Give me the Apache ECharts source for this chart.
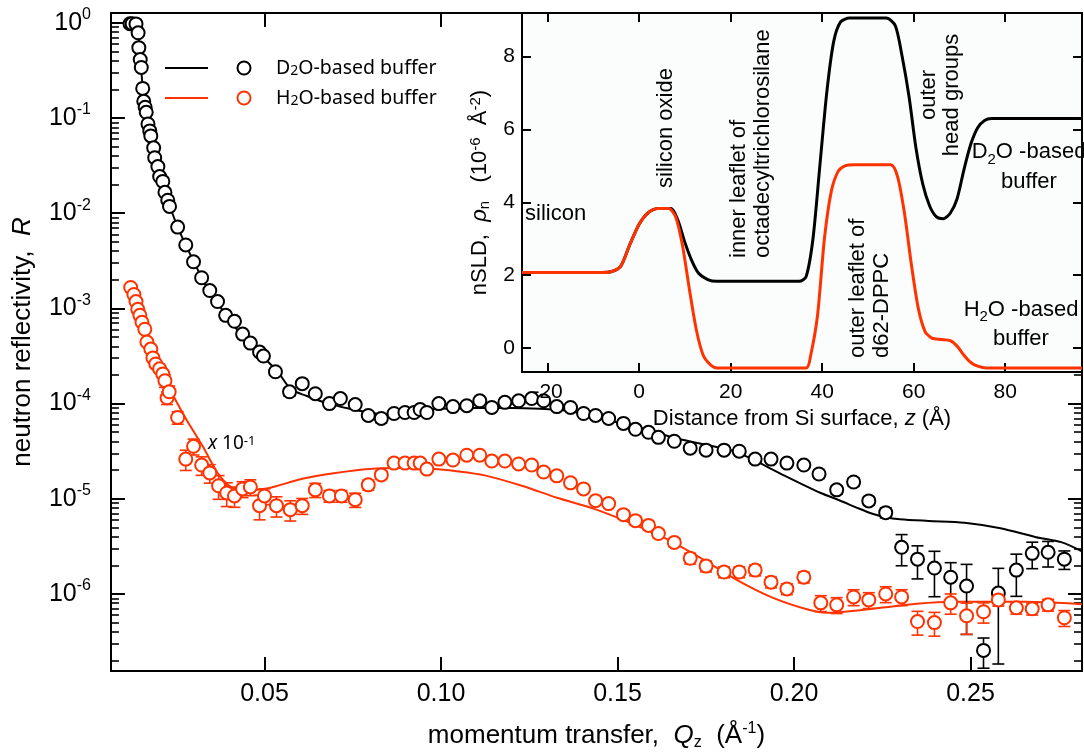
<!DOCTYPE html>
<html>
<head>
<meta charset="utf-8">
<script src="https://cdn.jsdelivr.net/npm/echarts@6/dist/echarts.min.js"></script>
<style>
  html, body { margin: 0; padding: 0; background: #fff; }
  #chart { width: 1084px; height: 756px; }
</style>
</head>
<body>
<div id="chart"></div>
<script>
// reflectivity, D2O-based buffer (open black circles)
var qD2O = [0.0119, 0.0125, 0.0136, 0.0142, 0.0144, 0.0148, 0.0151, 0.0155, 0.0158, 0.0162,
  0.0165, 0.0170, 0.0175, 0.0178, 0.0186, 0.0189, 0.0198, 0.0203, 0.0212, 0.0218,
  0.0226, 0.0231, 0.0254, 0.0277, 0.0299, 0.0322, 0.0345, 0.0367, 0.0390, 0.0415,
  0.0438, 0.0460, 0.0486, 0.0497, 0.0531, 0.0571, 0.0607, 0.0644, 0.0684, 0.0715,
  0.0757, 0.0794, 0.0831, 0.0867, 0.0898, 0.0924, 0.0941, 0.0960, 0.0994, 0.1034,
  0.1073, 0.1110, 0.1144, 0.1181, 0.1220, 0.1257, 0.1291, 0.1328, 0.1367, 0.1404,
  0.1438, 0.1475, 0.1517, 0.1551, 0.1588, 0.1616, 0.1661, 0.1706, 0.1751, 0.1802,
  0.1845, 0.1890, 0.1935, 0.1980, 0.2028, 0.2071, 0.2121, 0.2169, 0.2212, 0.2260,
  0.2305, 0.2350, 0.2398, 0.2444, 0.2489, 0.2537, 0.2579, 0.2630, 0.2675, 0.2720, 0.2766];
var rD2O = [0.98, 0.98, 0.976, 0.787, 0.549, 0.412, 0.34, 0.205, 0.150, 0.130,
  0.115, 0.0866, 0.0733, 0.0649, 0.0487, 0.0383, 0.0309, 0.0243, 0.0216, 0.0166,
  0.0137, 0.0118, 0.00715, 0.00464, 0.00309, 0.0021, 0.00154, 0.00118, 0.000846, 0.000732,
  0.000537, 0.000432, 0.000348, 0.000316, 0.000216, 0.000133, 0.000162, 0.000127, 0.0001, 0.000113,
  9.77e-5, 7.5e-5, 6.98e-5, 7.87e-5, 8.06e-5, 8.06e-5, 8.66e-5, 8.06e-5, 1.0e-4, 9.3e-5,
  9.5e-5, 1.07e-4, 9.1e-5, 1.03e-4, 1.07e-4, 1.13e-4, 1.07e-4, 9.3e-5, 9.1e-5, 7.87e-5,
  7.5e-5, 6.98e-5, 6.19e-5, 5.37e-5, 4.99e-5, 4.42e-5, 4.02e-5, 3.4e-5, 3.24e-5, 3.24e-5,
  3.16e-5, 2.61e-5, 2.61e-5, 2.37e-5, 2.26e-5, 1.82e-5, 1.24e-5, 1.5e-5, 9.5e-6, 7.15e-6,
  3.09e-6, 2.32e-6, 1.87e-6, 1.5e-6, 1.21e-6, 2.55e-7, 1.02e-6, 1.78e-6, 2.67e-6, 2.74e-6, 2.32e-6];
// relative error (sigma / R)
var eD2O = [0.03, 0.03, 0.03, 0.03, 0.03, 0.03, 0.03, 0.03, 0.03, 0.03,
  0.03, 0.03, 0.03, 0.03, 0.03, 0.03, 0.03, 0.03, 0.03, 0.03,
  0.03, 0.03, 0.03, 0.03, 0.03, 0.03, 0.03, 0.03, 0.03, 0.03,
  0.03, 0.03, 0.03, 0.03, 0.08, 0.1, 0.08, 0.08, 0.08, 0.08,
  0.08, 0.08, 0.1, 0.08, 0.08, 0.08, 0.08, 0.08, 0.05, 0.05,
  0.05, 0.05, 0.05, 0.05, 0.05, 0.05, 0.05, 0.05, 0.05, 0.05,
  0.05, 0.05, 0.05, 0.05, 0.05, 0.05, 0.05, 0.05, 0.05, 0.05,
  0.05, 0.05, 0.05, 0.05, 0.05, 0.1, 0.1, 0.1, 0.1, 0.12,
  0.36, 0.38, 0.5, 0.42, 0.69, 0.35, 0.82, 0.47, 0.31, 0.3, 0.22];

// reflectivity, H2O-based buffer (open red circles, scaled x 10^-1)
var qH2O = [0.0121, 0.0130, 0.0136, 0.0141, 0.0147, 0.0153, 0.0161, 0.0167, 0.0178, 0.0184,
  0.0192, 0.0203, 0.0212, 0.0218, 0.0224, 0.0230, 0.0254, 0.0277, 0.0299, 0.0322,
  0.0345, 0.0370, 0.0393, 0.0415, 0.0438, 0.0460, 0.0486, 0.0500, 0.0534, 0.0573,
  0.0607, 0.0644, 0.0684, 0.0718, 0.0757, 0.0794, 0.0831, 0.0867, 0.0898, 0.0924,
  0.0941, 0.0960, 0.0994, 0.1034, 0.1073, 0.1110, 0.1144, 0.1181, 0.1220, 0.1257,
  0.1291, 0.1328, 0.1367, 0.1404, 0.1438, 0.1475, 0.1517, 0.1551, 0.1588, 0.1616,
  0.1661, 0.1706, 0.1751, 0.1802, 0.1845, 0.1890, 0.1935, 0.1980, 0.2028, 0.2076,
  0.2121, 0.2169, 0.2212, 0.2260, 0.2305, 0.2350, 0.2398, 0.2444, 0.2489, 0.2537,
  0.2579, 0.2630, 0.2675, 0.2720, 0.2766];
var rH2O = [1.66e-3, 1.40e-3, 1.18e-3, 9.77e-4, 8.46e-4, 7.15e-4, 6.04e-4, 4.43e-4, 3.74e-4, 3.02e-4,
  2.61e-4, 2.32e-4, 2.05e-4, 1.74e-4, 1.15e-4, 1.33e-4, 7.15e-5, 2.61e-5, 3.56e-5, 2.26e-5,
  1.87e-5, 1.37e-5, 1.15e-5, 1.07e-5, 1.27e-5, 1.33e-5, 8.46e-6, 1.07e-5, 8.46e-6, 7.68e-6,
  8.46e-6, 1.24e-5, 1.07e-5, 1.07e-5, 9.77e-6, 1.4e-5, 1.78e-5, 2.37e-5, 2.37e-5, 2.37e-5,
  2.37e-5, 2.05e-5, 2.61e-5, 2.55e-5, 2.87e-5, 2.87e-5, 2.49e-5, 2.49e-5, 2.32e-5, 2.26e-5,
  1.91e-5, 1.74e-5, 1.47e-5, 1.27e-5, 9.55e-6, 8.9e-6, 6.81e-6, 5.89e-6, 5.25e-6, 4.31e-6,
  3.48e-6, 2.37e-6, 1.96e-6, 1.7e-6, 1.7e-6, 1.78e-6, 1.33e-6, 1.13e-6, 1.5e-6, 8.06e-7,
  7.68e-7, 9.3e-7, 8.66e-7, 1.0e-6, 9.3e-7, 5.13e-7, 5.0e-7, 8.06e-7, 5.89e-7, 6.5e-7,
  8.66e-7, 7.15e-7, 6.98e-7, 7.68e-7, 5.62e-7];
var eH2O = [0.07, 0.07, 0.07, 0.07, 0.07, 0.07, 0.07, 0.07, 0.07, 0.07,
  0.07, 0.07, 0.07, 0.15, 0.15, 0.15, 0.15, 0.24, 0.19, 0.22,
  0.22, 0.28, 0.28, 0.24, 0.19, 0.19, 0.29, 0.19, 0.24, 0.24,
  0.19, 0.17, 0.14, 0.14, 0.17, 0.12, 0.1, 0.07, 0.07, 0.07,
  0.07, 0.07, 0.07, 0.07, 0.07, 0.07, 0.07, 0.07, 0.07, 0.07,
  0.07, 0.07, 0.07, 0.07, 0.07, 0.07, 0.1, 0.1, 0.1, 0.1,
  0.1, 0.13, 0.13, 0.13, 0.13, 0.13, 0.13, 0.13, 0.13, 0.19,
  0.19, 0.19, 0.19, 0.19, 0.19, 0.28, 0.28, 0.24, 0.36, 0.24,
  0.14, 0.14, 0.14, 0.14, 0.19];

// model fits
var fitQD2O = [0.0119, 0.0136, 0.0142, 0.0148, 0.0155, 0.0162, 0.0170, 0.0180, 0.0190, 0.0200,
  0.0215, 0.0230, 0.0250, 0.0275, 0.0300, 0.0325, 0.0350, 0.0375, 0.0400, 0.0425,
  0.0450, 0.0475, 0.0500, 0.0540, 0.0575, 0.0620, 0.0680, 0.0750, 0.0800, 0.0850,
  0.0900, 0.0950, 0.1000, 0.1100, 0.1200, 0.1280, 0.1365, 0.1466, 0.1568, 0.1669,
  0.1771, 0.1831, 0.1873, 0.1975, 0.2076, 0.2130, 0.2180, 0.2220, 0.2260, 0.2300,
  0.2381, 0.2483, 0.2585, 0.2686, 0.2757, 0.2816];
var fitRD2O = [1.0, 0.98, 0.78, 0.45, 0.21, 0.135, 0.088, 0.058, 0.040, 0.029,
  0.019, 0.0125, 0.0078, 0.0048, 0.0031, 0.0020, 0.00142, 0.00103, 0.00077, 0.00058,
  0.00046, 0.00037, 0.00030, 0.00021, 0.000142, 0.00012, 0.0001, 8.7e-5, 8.0e-5, 7.7e-5,
  8.0e-5, 8.5e-5, 8.8e-5, 9.0e-5, 9.0e-5, 8.8e-5, 8.3e-5, 6.8e-5, 5.5e-5, 4.3e-5,
  3.56e-5, 3.16e-5, 2.7e-5, 1.74e-5, 1.15e-5, 9.6e-6, 8.0e-6, 7.0e-6, 6.4e-6, 6.1e-6,
  5.85e-6, 5.6e-6, 4.9e-6, 3.95e-6, 3.5e-6, 2.8e-6];
var fitQH2O = [0.0121, 0.0141, 0.0161, 0.0184, 0.0203, 0.0232, 0.0277, 0.0325, 0.0373, 0.0418,
  0.0466, 0.0514, 0.0607, 0.0701, 0.0797, 0.0890, 0.0980, 0.1040, 0.1124, 0.1229,
  0.1331, 0.1432, 0.1534, 0.1636, 0.1737, 0.1839, 0.1941, 0.2042, 0.2093, 0.2144,
  0.2246, 0.2347, 0.2449, 0.2551, 0.2653, 0.2816];
var fitRH2O = [1.7e-3, 1.0e-3, 6.0e-4, 3.1e-4, 2.1e-4, 1.4e-4, 6.98e-5, 3.56e-5, 1.74e-5, 1.27e-5,
  1.24e-5, 1.3e-5, 1.62e-5, 1.86e-5, 2.05e-5, 2.1e-5, 2.06e-5, 1.96e-5, 1.76e-5, 1.37e-5,
  1.02e-5, 7.87e-6, 5.62e-6, 3.83e-6, 2.37e-6, 1.4e-6, 9.1e-7, 6.81e-7, 6.34e-7, 6.5e-7,
  7.15e-7, 7.87e-7, 8.26e-7, 8.26e-7, 8.26e-7, 7.8e-7];

// inset: nSLD profiles
var zD2O = [-25.6, -8, -6, -4, -2, 0, 2, 4, 7, 8.5, 10, 11.5, 13, 15, 17, 35, 36.5, 38, 39.5, 41,
  42.5, 44, 46, 54, 56, 57.5, 59, 60.5, 62, 63.5, 65, 66.5, 68, 69.5, 71, 72.5, 74, 75.5, 77, 96.8];
var sldD2O = [2.07, 2.07, 2.1, 2.25, 2.85, 3.4, 3.72, 3.83, 3.83, 3.5, 2.9, 2.4, 2.05, 1.88, 1.83, 1.83, 1.96, 3.0, 5.0, 7.0,
  8.4, 8.95, 9.06, 9.06, 8.85, 8.0, 6.9, 5.5, 4.5, 3.9, 3.6, 3.55, 3.7, 4.1, 4.9, 5.6, 6.05, 6.25, 6.3, 6.3];
var zH2O = [-25.6, -8, -6, -4, -2, 0, 2, 4, 6.5, 8, 9.5, 11, 12.5, 14, 15.5, 17, 36.5, 37.5, 39, 40.5,
  42, 43.5, 45, 47, 55, 56.5, 58, 59.5, 61, 62.5, 64, 66, 68, 69.5, 71, 72.5, 74, 76, 96.8];
var sldH2O = [2.07, 2.07, 2.1, 2.25, 2.85, 3.4, 3.72, 3.83, 3.83, 3.6, 2.8, 1.6, 0.5, -0.2, -0.45, -0.55, -0.55, -0.2, 0.9, 3.0,
  4.3, 4.85, 5.0, 5.03, 5.03, 4.7, 3.7, 2.3, 1.1, 0.45, 0.27, 0.23, 0.2, 0.05, -0.2, -0.4, -0.5, -0.55, -0.55];

// ticks
var qTicks = [0.05, 0.10, 0.15, 0.20, 0.25];
var rTicks = [1e-6, 1e-5, 1e-4, 1e-3, 1e-2, 1e-1, 1];
var zTicks = [-20, 0, 20, 40, 60, 80];
var sldTicks = [0, 2, 4, 6, 8];

var Q_MIN = 0.0065, Q_MAX = 0.2816;
var R_MIN = 1.55e-7, R_MAX = 1.27;
var Z_MIN = -25.6, Z_MAX = 96.8;
var S_MIN = -0.66, S_MAX = 9.2;

var RED = '#ff3300';
var FONT = '"Liberation Sans", Arial, sans-serif';
var LFONT = '"Noto Sans", "DejaVu Sans", sans-serif';

var minorTicks = [];
rTicks.concat([1e-7]).forEach(function (d) {
  for (var m = 2; m <= 9; m++) {
    var v = m * d;
    if (v > R_MIN && v < R_MAX) minorTicks.push(v);
  }
});

function zip(a, b) { return a.map(function (v, i) { return [v, b[i]]; }); }
function errData(q, r, e) {
  return q.map(function (v, i) {
    return [v, Math.max(r[i] * (1 - e[i]), R_MIN), r[i] * (1 + e[i])];
  });
}
function errorBars(color) {
  return function (params, api) {
    var x = api.value(0);
    var lo = api.coord([x, api.value(1)]);
    var hi = api.coord([x, api.value(2)]);
    var cap = 6;
    var st = { stroke: color, lineWidth: 1.6 };
    return {
      type: 'group',
      children: [
        { type: 'line', shape: { x1: hi[0], y1: hi[1], x2: lo[0], y2: lo[1] }, style: st },
        { type: 'line', shape: { x1: hi[0] - cap, y1: hi[1], x2: hi[0] + cap, y2: hi[1] }, style: st },
        { type: 'line', shape: { x1: lo[0] - cap, y1: lo[1], x2: lo[0] + cap, y2: lo[1] }, style: st }
      ]
    };
  };
}

var supRich = {
  sup: { fontSize: 16, lineHeight: 22, verticalAlign: 'top', fontFamily: FONT, color: '#000' },
  sub: { fontSize: 16, lineHeight: 16, verticalAlign: 'bottom', fontFamily: FONT, color: '#000' },
  i: { fontStyle: 'italic', fontSize: 26, fontFamily: FONT, color: '#000' }
};

var blackLine = { onZero: false, lineStyle: { color: '#000', width: 2 } };
var mainTick = { inside: true, length: 14, lineStyle: { color: '#000', width: 2 } };
var minorTick = { inside: true, length: 8, lineStyle: { color: '#000', width: 1.6 }, customValues: minorTicks };
var insetTick = { inside: true, length: 9, lineStyle: { color: '#000', width: 2 } };

var chart = echarts.init(document.getElementById('chart'));
var option = {
  animation: false,
  backgroundColor: '#fff',
  grid: [
    { left: 108, top: 13, right: 2, bottom: 79 },
    { left: 522, top: 13, right: 2, height: 359, show: true, backgroundColor: '#fbfcfc', borderWidth: 0, z: 10 }
  ],
  xAxis: [
    {
      gridIndex: 0, type: 'value', min: Q_MIN, max: Q_MAX, position: 'bottom',
      axisLine: blackLine,
      axisTick: Object.assign({ customValues: qTicks }, mainTick),
      axisLabel: {
        customValues: qTicks, fontSize: 25, lineHeight: 25, color: '#000', margin: 11, fontFamily: FONT,
        formatter: function (v) { return v.toFixed(2); }
      },
      splitLine: { show: false },
      name: 'momentum transfer,  {i|Q}{sub|z}  (Å{sup|-1})',
      nameLocation: 'middle', nameGap: 50,
      nameTextStyle: { fontSize: 26, lineHeight: 30, color: '#000', fontFamily: FONT, rich: supRich }
    },
    {
      gridIndex: 0, type: 'value', min: Q_MIN, max: Q_MAX, position: 'top',
      axisLine: blackLine,
      axisTick: Object.assign({ customValues: qTicks }, mainTick),
      axisLabel: { show: false }, splitLine: { show: false }
    },
    {
      gridIndex: 1, type: 'value', min: Z_MIN, max: Z_MAX, position: 'bottom', z: 11,
      axisLine: blackLine,
      axisTick: Object.assign({ customValues: zTicks }, insetTick),
      axisLabel: { customValues: zTicks, fontSize: 21, lineHeight: 21, color: '#000', margin: 10, fontFamily: FONT },
      splitLine: { show: false },
      name: 'Distance from Si surface, {i|z} (Å)',
      nameLocation: 'middle', nameGap: 35,
      nameTextStyle: {
        fontSize: 22, lineHeight: 24, color: '#000', fontFamily: FONT,
        rich: { i: { fontStyle: 'italic', fontSize: 22, fontFamily: FONT, color: '#000' } }
      }
    },
    {
      gridIndex: 1, type: 'value', min: Z_MIN, max: Z_MAX, position: 'top', z: 11,
      axisLine: blackLine,
      axisTick: Object.assign({ customValues: zTicks }, insetTick),
      axisLabel: { show: false }, splitLine: { show: false }
    }
  ],
  yAxis: [
    {
      gridIndex: 0, type: 'log', logBase: 10, min: R_MIN, max: R_MAX, position: 'left',
      axisLine: blackLine,
      axisTick: Object.assign({ customValues: rTicks }, mainTick),
      axisLabel: {
        customValues: rTicks, color: '#000', margin: 20, fontSize: 25, lineHeight: 32, fontFamily: FONT,
        formatter: function (v) { return '10{sup|' + Math.round(Math.log10(v)) + '}'; },
        rich: { sup: { fontSize: 16, lineHeight: 22, verticalAlign: 'top', fontFamily: FONT, color: '#000' } }
      },
      splitLine: { show: false },
      name: 'neutron reflectivity,  {i|R}',
      nameLocation: 'middle', nameRotate: 90, nameGap: 72,
      nameTextStyle: { fontSize: 26, lineHeight: 30, color: '#000', fontFamily: FONT, rich: supRich }
    },
    {
      gridIndex: 0, type: 'log', logBase: 10, min: R_MIN, max: R_MAX, position: 'right',
      axisLine: blackLine,
      axisTick: Object.assign({ customValues: rTicks }, mainTick),
      axisLabel: { show: false }, splitLine: { show: false }
    },
    {
      gridIndex: 0, type: 'log', logBase: 10, min: R_MIN, max: R_MAX, position: 'left',
      axisLine: { show: false }, axisTick: minorTick,
      axisLabel: { show: false }, splitLine: { show: false }
    },
    {
      gridIndex: 0, type: 'log', logBase: 10, min: R_MIN, max: R_MAX, position: 'right',
      axisLine: { show: false }, axisTick: minorTick,
      axisLabel: { show: false }, splitLine: { show: false }
    },
    {
      gridIndex: 1, type: 'value', min: S_MIN, max: S_MAX, position: 'left', z: 11,
      axisLine: blackLine,
      axisTick: Object.assign({ customValues: sldTicks }, insetTick),
      axisLabel: { customValues: sldTicks, fontSize: 21, color: '#000', margin: 7, fontFamily: FONT },
      splitLine: { show: false },
      name: 'nSLD,  {i|ρ}{sub|n}   (10{sup|-6}  Å{sup|-2})',
      nameLocation: 'middle', nameRotate: 90, nameGap: 30,
      nameTextStyle: {
        fontSize: 22, lineHeight: 24, color: '#000', fontFamily: FONT,
        rich: {
          i: { fontStyle: 'italic', fontSize: 22, fontFamily: FONT, color: '#000' },
          sub: { fontSize: 15, lineHeight: 15, verticalAlign: 'bottom', fontFamily: FONT, color: '#000' },
          sup: { fontSize: 15, lineHeight: 18, verticalAlign: 'top', fontFamily: FONT, color: '#000' }
        }
      }
    },
    {
      gridIndex: 1, type: 'value', min: S_MIN, max: S_MAX, position: 'right', z: 11,
      axisLine: blackLine,
      axisTick: Object.assign({ customValues: sldTicks }, insetTick),
      axisLabel: { show: false }, splitLine: { show: false }
    }
  ],
  series: [
    {
      type: 'line', xAxisIndex: 0, yAxisIndex: 0, data: zip(fitQD2O, fitRD2O),
      showSymbol: false, smooth: 0.3, z: 2,
      lineStyle: { color: '#000', width: 2 }
    },
    {
      type: 'line', xAxisIndex: 0, yAxisIndex: 0, data: zip(fitQH2O, fitRH2O),
      showSymbol: false, smooth: 0.3, z: 2,
      lineStyle: { color: RED, width: 2 }
    },
    {
      type: 'custom', xAxisIndex: 0, yAxisIndex: 0, data: errData(qD2O, rD2O, eD2O),
      encode: { x: 0, y: [1, 2] }, renderItem: errorBars('#000'), z: 3
    },
    {
      type: 'custom', xAxisIndex: 0, yAxisIndex: 0, data: errData(qH2O, rH2O, eH2O),
      encode: { x: 0, y: [1, 2] }, renderItem: errorBars(RED), z: 3
    },
    {
      type: 'scatter', xAxisIndex: 0, yAxisIndex: 0, data: zip(qD2O, rD2O),
      symbol: 'circle', symbolSize: 13, z: 4,
      itemStyle: { color: '#fff', opacity: 1, borderColor: '#000', borderWidth: 2 }
    },
    {
      type: 'scatter', xAxisIndex: 0, yAxisIndex: 0, data: zip(qH2O, rH2O),
      symbol: 'circle', symbolSize: 13, z: 4,
      itemStyle: { color: '#fff', opacity: 1, borderColor: RED, borderWidth: 2 }
    },
    {
      type: 'line', xAxisIndex: 2, yAxisIndex: 4, data: zip(zD2O, sldD2O),
      showSymbol: false, smooth: 0.25, z: 12,
      lineStyle: { color: '#000', width: 3 }
    },
    {
      type: 'line', xAxisIndex: 2, yAxisIndex: 4, data: zip(zH2O, sldH2O),
      showSymbol: false, smooth: 0.25, z: 13,
      lineStyle: { color: RED, width: 3 }
    }
  ],
  graphic: [
    // legend
    { type: 'line', z: 30, shape: { x1: 165, y1: 68, x2: 208, y2: 68 }, style: { stroke: '#000', lineWidth: 2 } },
    { type: 'circle', z: 30, shape: { cx: 244, cy: 68, r: 6.5 }, style: { stroke: '#000', lineWidth: 2, fill: '#fff' } },
    { type: 'text', z: 30, x: 276, y: 68, style: {
        text: 'D{s|2}O-based buffer', font: '19.5px ' + LFONT, fill: '#000', verticalAlign: 'middle',
        rich: { s: { fontSize: 14, lineHeight: 14, verticalAlign: 'bottom', fontFamily: LFONT, fill: '#000' } } } },
    { type: 'line', z: 30, shape: { x1: 165, y1: 98, x2: 208, y2: 98 }, style: { stroke: RED, lineWidth: 2 } },
    { type: 'circle', z: 30, shape: { cx: 244, cy: 98, r: 6.5 }, style: { stroke: RED, lineWidth: 2, fill: '#fff' } },
    { type: 'text', z: 30, x: 276, y: 98, style: {
        text: 'H{s|2}O-based buffer', font: '19.5px ' + LFONT, fill: '#000', verticalAlign: 'middle',
        rich: { s: { fontSize: 14, lineHeight: 14, verticalAlign: 'bottom', fontFamily: LFONT, fill: '#000' } } } },
    // scale note on the H2O curve
    { type: 'text', z: 30, x: 208, y: 444, style: {
        text: '{i|x} 10{u|-1}', font: '19px ' + LFONT, fill: '#000', verticalAlign: 'middle',
        rich: {
          i: { fontStyle: 'italic', fontSize: 19, fontFamily: LFONT, fill: '#000' },
          u: { fontSize: 13, lineHeight: 14, verticalAlign: 'top', fontFamily: LFONT, fill: '#000' }
        } } },
    // inset labels
    { type: 'text', z: 30, x: 525, y: 214, style: { text: 'silicon', font: '22px ' + FONT, fill: '#000', verticalAlign: 'middle' } },
    { type: 'text', z: 30, x: 666, y: 128, rotation: Math.PI / 2, style: {
        text: 'silicon oxide', font: '22px ' + FONT, fill: '#000', align: 'center', verticalAlign: 'middle' } },
    { type: 'text', z: 30, x: 751, y: 258, rotation: Math.PI / 2, style: {
        text: 'inner leaflet of\noctadecyltrichlorosilane', font: '22px ' + FONT, lineHeight: 24,
        fill: '#000', align: 'left', verticalAlign: 'middle' } },
    { type: 'text', z: 30, x: 870, y: 358, rotation: Math.PI / 2, style: {
        text: 'outer leaflet of\nd62-DPPC', font: '22px ' + FONT, lineHeight: 24,
        fill: '#000', align: 'left', verticalAlign: 'middle' } },
    { type: 'text', z: 30, x: 940, y: 95, rotation: Math.PI / 2, style: {
        text: 'outer\nhead groups', font: '22px ' + FONT, lineHeight: 23,
        fill: '#000', align: 'center', verticalAlign: 'middle' } },
    { type: 'text', z: 30, x: 1029, y: 167, style: {
        text: 'D{s|2}O -based\nbuffer', font: '22px ' + FONT, lineHeight: 30, fill: '#000',
        align: 'center', verticalAlign: 'middle',
        rich: { s: { fontSize: 15, lineHeight: 15, verticalAlign: 'bottom', fontFamily: FONT, fill: '#000' } } } },
    { type: 'text', z: 30, x: 1021, y: 324, style: {
        text: 'H{s|2}O -based\nbuffer', font: '22px ' + FONT, lineHeight: 29, fill: '#000',
        align: 'center', verticalAlign: 'middle',
        rich: { s: { fontSize: 15, lineHeight: 15, verticalAlign: 'bottom', fontFamily: FONT, fill: '#000' } } } }
  ]
};
chart.setOption(option);
</script>
</body>
</html>
